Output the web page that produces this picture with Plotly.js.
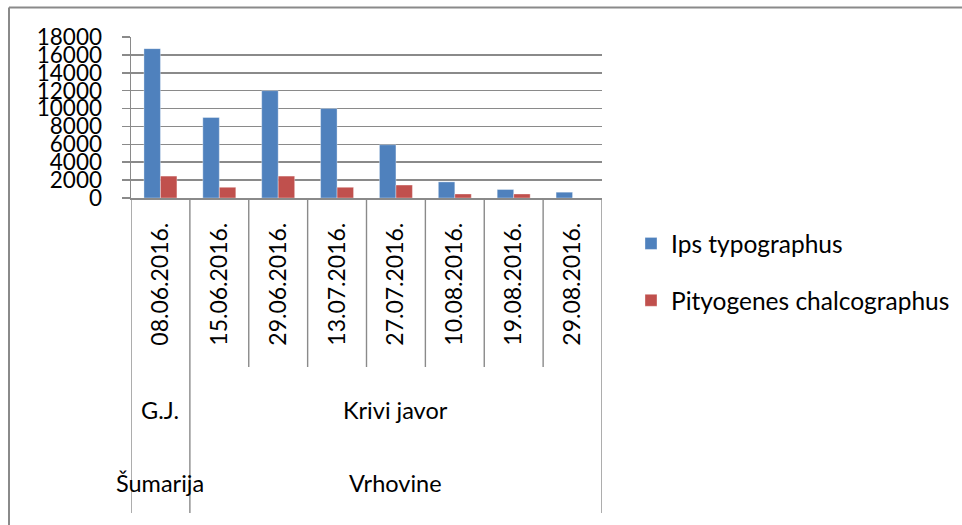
<!DOCTYPE html>
<html>
<head>
<meta charset="utf-8">
<script src="https://cdn.plot.ly/plotly-3.0.1.min.js"></script>
<style>
html,body{margin:0;padding:0;background:#fff;}
#chart{width:962px;height:525px;}
</style>
</head>
<body>
<div id="chart"></div>
<script>
// ---- data ----
var dates = ["08.06.2016.","15.06.2016.","29.06.2016.","13.07.2016.","27.07.2016.","10.08.2016.","19.08.2016.","29.08.2016."];
var ipsTypographus = [16700, 9000, 12000, 10000, 5950, 1800, 950, 650];
var pityogenesChalcographus = [2450, 1200, 2450, 1200, 1450, 450, 450, 0];
var seriesNames = ["Ips typographus", "Pityogenes chalcographus"];
var gjLabels = ["G.J.", "Krivi javor"];
var gjSpans = [[0, 0], [1, 7]];
var sumarijaLabels = ["Šumarija", "Vrhovine"];
var sumarijaSpans = [[0, 0], [1, 7]];
var yTicks = [0, 2000, 4000, 6000, 8000, 10000, 12000, 14000, 16000, 18000];

// ---- layout geometry ----
var W = 962, H = 525;
var L = 131, R = 602, T = 37, B = 198;
function px2x(p){ return (p - L) / (R - L); }
function px2y(p){ return 1 - (p - T) / (B - T); }

var FONT = "Lato, 'Open Sans', sans-serif";
var gray = "#8a8a8a";

var traces = [
  {type:"bar", x:dates, y:ipsTypographus, name:seriesNames[0], legendgroup:"a",
   marker:{color:"#4F81BD", line:{color:"rgba(255,255,255,0.35)", width:1}}},
  {type:"bar", x:dates, y:pityogenesChalcographus, name:seriesNames[1], legendgroup:"b",
   marker:{color:"#C0504D", line:{color:"rgba(255,255,255,0.35)", width:1}}}
];

var shapes = [];
// outer frame (partly cropped)
shapes.push({type:"line", xref:"paper", yref:"paper", x0:px2x(9), x1:px2x(980), y0:px2y(7.5), y1:px2y(7.5), line:{color:gray, width:2}});
shapes.push({type:"line", xref:"paper", yref:"paper", x0:px2x(9), x1:px2x(9), y0:px2y(7.5), y1:px2y(540), line:{color:gray, width:2}});

// category separators
var boundaries = [];
for (var i = 0; i <= dates.length; i++) boundaries.push(i - 0.5);
var groupEdges = {};
gjSpans.forEach(function(s){ groupEdges[s[0]-0.5] = true; groupEdges[s[1]+0.5] = true; });
boundaries.forEach(function(b){
  var bottom = groupEdges[b] ? 513 : 367;
  shapes.push({type:"line", xref:"x", yref:"paper", x0:b, x1:b, y0:px2y(B), y1:px2y(bottom), line:{color:gray, width:1.4}});
});

var annotations = [];
gjLabels.forEach(function(lab, k){
  annotations.push({xref:"x", yref:"paper", x:(gjSpans[k][0]+gjSpans[k][1])/2, y:px2y(410), text:lab, showarrow:false,
    font:{family:FONT, size:23.5, color:"#000"}, xanchor:"center", yanchor:"middle"});
});
sumarijaLabels.forEach(function(lab, k){
  annotations.push({xref:"x", yref:"paper", x:(sumarijaSpans[k][0]+sumarijaSpans[k][1])/2, y:px2y(483), text:lab, showarrow:false,
    font:{family:FONT, size:23.5, color:"#000"}, xanchor:"center", yanchor:"middle"});
});

var layout = {
  width:W, height:H,
  margin:{l:L, r:W-R, t:T, b:H-B, pad:0, autoexpand:false},
  paper_bgcolor:"#fff", plot_bgcolor:"#fff",
  barmode:"group", bargap:0.44, bargroupgap:0,
  font:{family:FONT, size:23, color:"#000"},
  xaxis:{type:"category", tickangle:-90, ticks:"", showline:true, linecolor:gray, linewidth:1.5,
         showgrid:false, tickfont:{family:FONT, size:23, color:"#000"}, ticklabelstandoff:14,
         range:[-0.5, dates.length-0.5], fixedrange:true, automargin:false},
  yaxis:{range:[0,18000], tickvals:yTicks, ticktext:yTicks.map(String), ticks:"outside", ticklen:8, tickcolor:gray, tickwidth:1.5,
         showline:true, linecolor:gray, linewidth:1.5, showgrid:true, gridcolor:gray, gridwidth:1.5,
         zeroline:false, tickfont:{family:FONT, size:22.5, color:"#000"}, ticklabelstandoff:15, fixedrange:true, automargin:false},
  showlegend:true,
  legend:{x:px2x(631), y:px2y(221), xanchor:"left", yanchor:"top", traceorder:"grouped", tracegroupgap:22,
          font:{family:FONT, size:24.5, color:"#000"}, bgcolor:"rgba(0,0,0,0)", itemwidth:30},
  shapes:shapes,
  annotations:annotations
};

Plotly.newPlot("chart", traces, layout, {displayModeBar:false, staticPlot:true});
</script>
</body>
</html>
